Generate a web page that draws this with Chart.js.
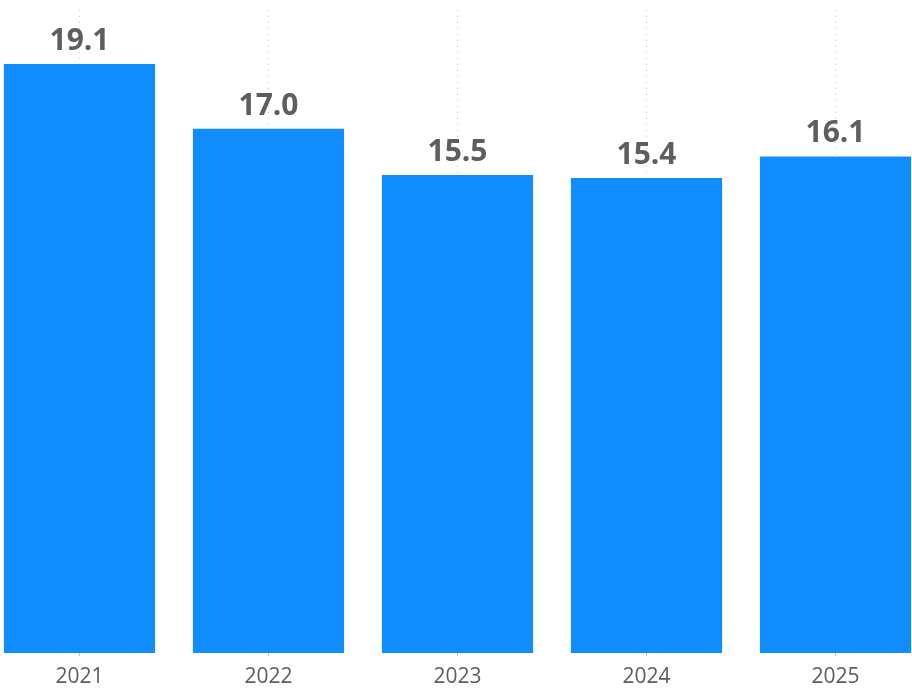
<!DOCTYPE html>
<html>
<head>
<meta charset="utf-8">
<script src="https://cdn.jsdelivr.net/npm/chart.js@4/dist/chart.umd.min.js"></script>
<style>
  html, body { margin: 0; padding: 0; overflow: hidden; background: #fff; }
  #wrap { position: absolute; left: -15px; top: 0; width: 945px; height: 690px; }
</style>
</head>
<body>
<div id="wrap"><canvas id="chart"></canvas></div>
<script>
// --- 데이터 ---
const years = ["2021", "2022", "2023", "2024", "2025"];
const values = [19.1, 17.0, 15.5, 15.4, 16.1];

const barColor = "#118DFF";
const textColor = "#605E5C";

// 막대 위 값 표시
const valueLabels = {
  id: "valueLabels",
  afterDatasetsDraw(chart) {
    const { ctx } = chart;
    const meta = chart.getDatasetMeta(0);
    ctx.save();
    ctx.font = "bold 30px 'Open Sans'";
    ctx.fillStyle = textColor;
    ctx.textAlign = "center";
    ctx.textBaseline = "alphabetic";
    meta.data.forEach((bar, i) => {
      ctx.fillText(values[i].toFixed(1), bar.x, bar.y - 14);
    });
    ctx.restore();
  },
};

new Chart(document.getElementById("chart"), {
  type: "bar",
  data: {
    labels: years,
    datasets: [
      {
        data: values,
        backgroundColor: barColor,
        barPercentage: 0.8,
        categoryPercentage: 1.0,
      },
    ],
  },
  options: {
    responsive: true,
    maintainAspectRatio: false,
    animation: false,
    layout: { padding: { top: 10, left: 0, right: 0, bottom: 0 } },
    plugins: { legend: { display: false }, tooltip: { enabled: false } },
    scales: {
      x: {
        grid: {
          offset: false,
          color: "#C8C8C8",
          lineWidth: 1,
          drawTicks: true,
          tickLength: 3,
        },
        border: { display: false, dash: [1, 5] },
        ticks: {
          color: textColor,
          font: { family: "'Open Sans'", size: 21 },
          padding: 8,
        },
        afterFit(scale) {
          scale.height = 37;
        },
      },
      y: {
        display: false,
        min: 0,
        max: 20.85,
      },
    },
  },
  plugins: [valueLabels],
});
</script>
</body>
</html>
